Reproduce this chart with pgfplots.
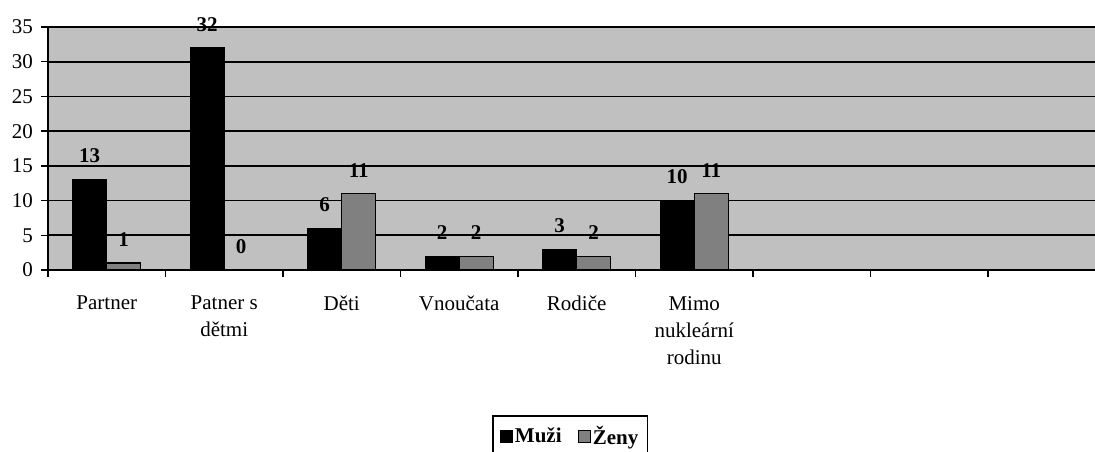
\documentclass[border=0pt]{standalone}
\usepackage{fontspec}
\setmainfont{Liberation Serif}
\usepackage{pgfplots}
\pgfplotsset{compat=1.18}
\definecolor{plotbg}{HTML}{C0C0C0}
\definecolor{zeny}{HTML}{808080}
\newcommand{\bigf}{\fontsize{21}{27}\selectfont}
\pgfplotsset{sqlegend/.style={legend image code/.code={\draw[##1,/tikz/.cd,line width=1.2pt] (0pt,-7pt) rectangle (12pt,5pt);}}}
\begin{document}
\begin{tikzpicture}[font=\bigf]
\begin{axis}[
  name=ax,
  scale only axis, width=1047pt, height=243pt,
  xmin=-0.5, xmax=8.411, ymin=0, ymax=35,
  axis lines*=left,
  axis line style={line width=1.6pt,-},
  axis background/.style={fill=plotbg},
  ytick={0,5,...,35},
  ymajorgrids, major grid style={black, line width=1.6pt},
  tick align=outside, major tick length=7pt,
  tick style={black, line width=1.5pt},
  xtick={-0.5,0.5,...,7.5}, xticklabels={},
  extra x ticks={0,1,2,3,4,5},
  extra x tick labels={Partner, {Patner s\\dětmi}, Děti, Vnoučata, Rodiče, {Mimo\\nukleární\\rodinu}},
  extra x tick style={major tick length=0pt, grid=none,
     xticklabel style={align=center, anchor=north, inner sep=0pt, yshift=-26pt}},
  /pgf/number format/assume math mode=true,
  tick label style={font=\bigf},
  yticklabel style={xshift=-8pt, inner sep=0pt},
  ybar=0pt, bar width=34pt,
  nodes near coords,
  every node near coord/.append style={font=\bigf\bfseries, anchor=south, inner sep=0pt, yshift=16pt, black},
  legend style={at={(0.4986,-0.5967)}, anchor=north, legend columns=2,
     draw=black, line width=1.6pt, font=\bigf\bfseries, inner xsep=7pt, inner ysep=8pt,
     /tikz/every odd column/.append style={column sep=0pt},
     /tikz/every even column/.append style={column sep=14pt}},
  legend cell align=left,
]
\addplot[fill=black, draw=black, line width=1.2pt, sqlegend]
  coordinates {(0,13) (1,32) (2,6) (3,2) (4,3) (5,10)};
\addplot[fill=zeny, draw=black, line width=1.2pt, sqlegend]
  coordinates {(0,1) (1,0) (2,11) (3,2) (4,2) (5,11)};
\legend{Muži, Ženy}
\end{axis}
\pgfresetboundingbox
\path[use as bounding box] ([shift={(-48pt,-181pt)}]ax.south west) rectangle ++(1095pt,451pt);
\end{tikzpicture}
\end{document}
